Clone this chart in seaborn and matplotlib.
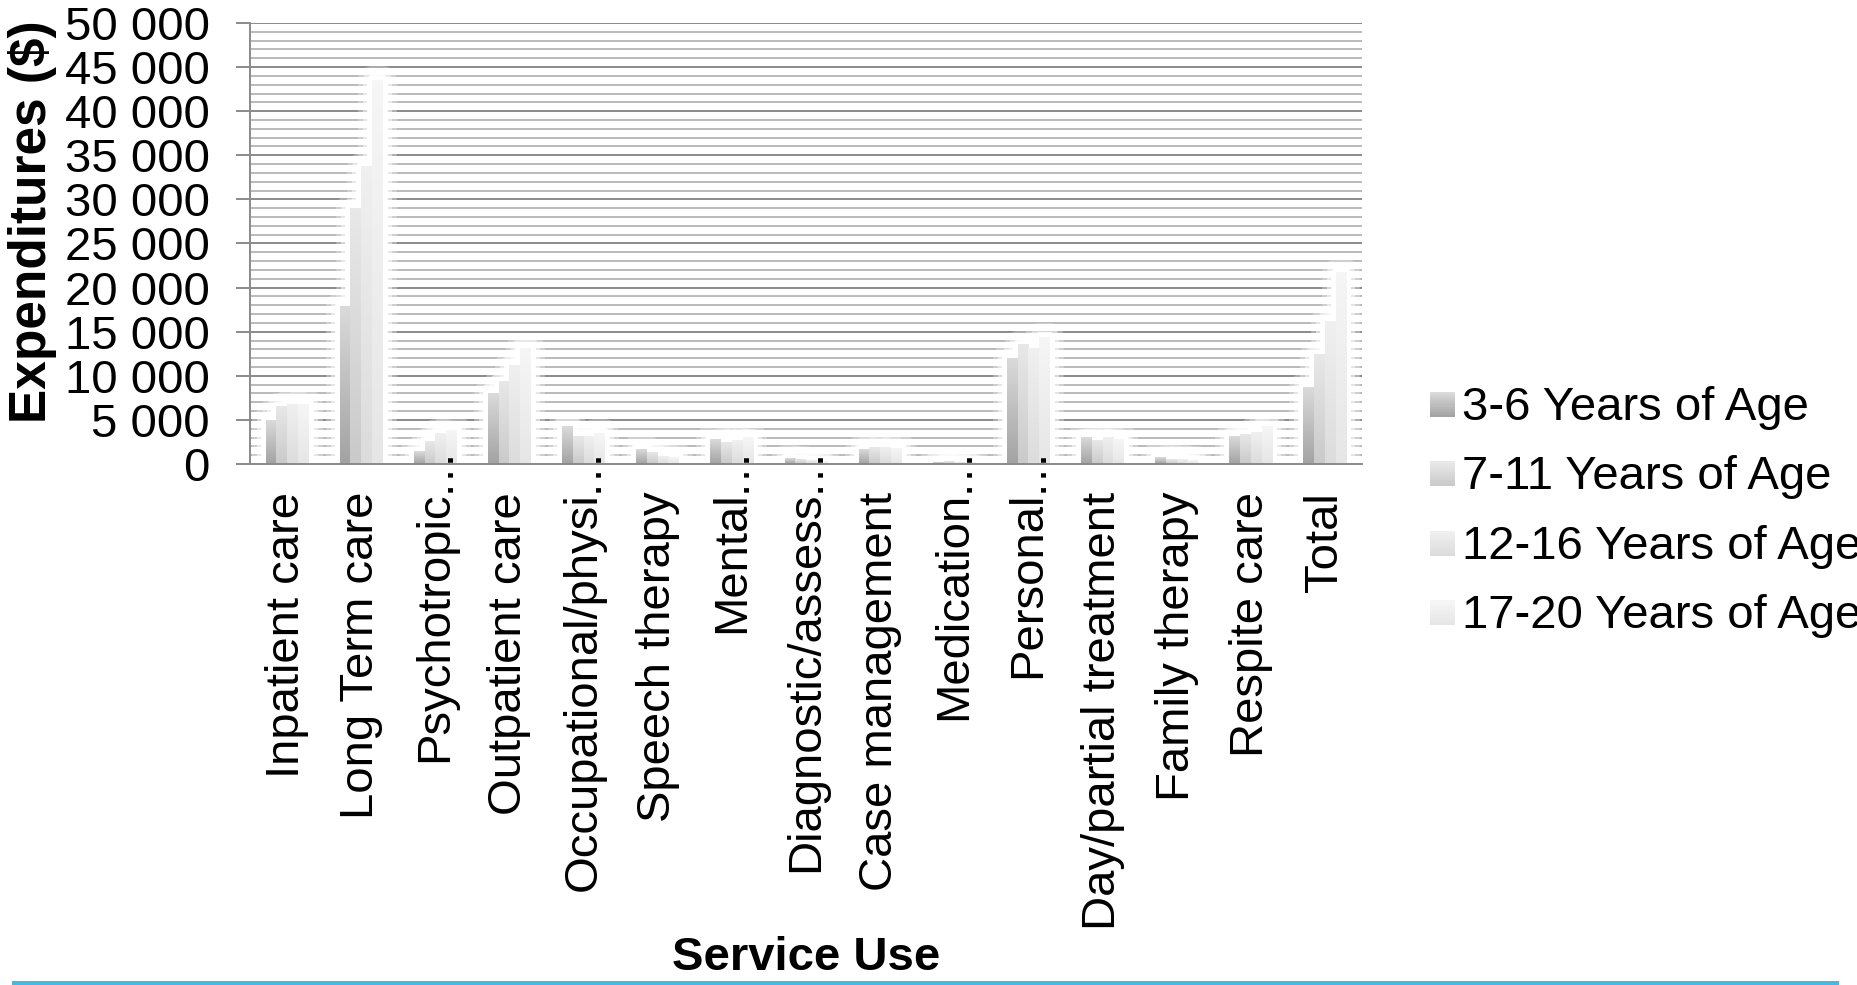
import numpy as np
import pandas as pd
import matplotlib
matplotlib.use("Agg")
import matplotlib.pyplot as plt
import seaborn as sns
from matplotlib.patches import Rectangle
from matplotlib.colors import LinearSegmentedColormap
from matplotlib.legend_handler import HandlerBase
from matplotlib.ticker import MultipleLocator, FuncFormatter

# ---- data -------------------------------------------------------------
service_labels = [
    "Inpatient care", "Long Term care", "Psychotropic…", "Outpatient care",
    "Occupational/physi…", "Speech therapy", "Mental…", "Diagnostic/assess…",
    "Case management", "Medication…", "Personal…", "Day/partial treatment",
    "Family therapy", "Respite care", "Total",
]
age_groups = ["3-6 Years of Age", "7-11 Years of Age",
              "12-16 Years of Age", "17-20 Years of Age"]

exp_3_6 = [4900, 17900, 1400, 8000, 4300, 1700, 2800, 600, 1600, 200,
           12000, 3000, 750, 3100, 8700]
exp_7_11 = [6500, 29000, 2500, 9300, 3100, 1300, 2450, 500, 1850, 250,
            13500, 2700, 550, 3300, 12400]
exp_12_16 = [6800, 33700, 3500, 11200, 3100, 900, 2650, 350, 1850, 200,
             13150, 3000, 550, 3600, 16200]
exp_17_20 = [6800, 43500, 3800, 13100, 3500, 750, 3000, 250, 1800, 150,
             14350, 2800, 450, 4300, 21700]

# bottom -> top shading of each age group
shades = [("#a3a3a3", "#dadada"), ("#cacaca", "#e8e8e8"),
          ("#dcdcdc", "#f0f0f0"), ("#e6e6e6", "#f6f6f6")]

# ---- long table -------------------------------------------------------
plain_labels = [s.rstrip("…") for s in service_labels]
rows = []
for grp, vals in zip(age_groups, [exp_3_6, exp_7_11, exp_12_16, exp_17_20]):
    for svc, v in zip(plain_labels, vals):
        rows.append({"service": svc, "age": grp, "value": v})
df = pd.DataFrame(rows)

# ---- figure -----------------------------------------------------------
sns.set_theme(style="white")
plt.rcParams["font.family"] = ["Liberation Sans", "DejaVu Sans"]
plt.rcParams["text.color"] = "black"
plt.rcParams["axes.labelcolor"] = "black"
plt.rcParams["xtick.color"] = "black"
plt.rcParams["ytick.color"] = "black"

W, H = 1858, 985
fig = plt.figure(figsize=(W / 100, H / 100), dpi=100)
fig.patch.set_facecolor("white")
ax = fig.add_axes([250 / W, 1 - 464 / H, (1362 - 250) / W, (464 - 23) / H])

mid_colors = [c[0] for c in shades]
sns.barplot(data=df, x="service", y="value", hue="age", order=plain_labels,
            hue_order=age_groups, palette=mid_colors, width=0.58,
            saturation=1, errorbar=None, legend=False, ax=ax, linewidth=0)

# gradient fill and soft white glow for every bar
for k, cont in enumerate(ax.containers):
    cmap = LinearSegmentedColormap.from_list(f"g{k}", list(shades[k]))
    for p in cont:
        x, w, h = p.get_x(), p.get_width(), p.get_height()
        p.set_zorder(2)
        if h <= 0:
            continue
        for lw, a in [(20, 0.3), (13, 0.5), (7, 1.0)]:
            ax.add_patch(Rectangle((x, 0), w, h, facecolor="white",
                                   edgecolor="white", lw=lw, alpha=a,
                                   joinstyle="round", zorder=1.5))
        grad = np.linspace(0, 1, 64).reshape(-1, 1)
        ax.imshow(grad, extent=[x, x + w, 0, h], origin="lower", cmap=cmap,
                  aspect="auto", interpolation="bilinear", zorder=2.1)

# ---- axes styling -----------------------------------------------------
ax.set_xlim(-0.5, len(plain_labels) - 0.5)
ax.set_ylim(0, 50000)
ax.set_axisbelow(True)
ax.yaxis.set_major_locator(MultipleLocator(5000))
ax.yaxis.set_minor_locator(MultipleLocator(1000))
ax.yaxis.set_major_formatter(
    FuncFormatter(lambda v, _: f"{int(v):,}".replace(",", " ")))
ax.grid(which="major", axis="y", color="#8a8a8a", lw=1.4)
ax.grid(which="minor", axis="y", color="#b4b4b4", lw=1.3)
ax.grid(False, axis="x")

ax.tick_params(axis="y", which="major", left=True, length=10, width=1.4,
               color="#8a8a8a", pad=19, labelsize=34, labelcolor="black")
ax.tick_params(axis="y", which="minor", left=False, length=0)
ax.set_xticks(range(len(plain_labels)))
ax.set_xticklabels(plain_labels, rotation=90)
ax.tick_params(axis="x", length=0, pad=20, labelsize=34, labelcolor="black")

for side in ("top", "right"):
    ax.spines[side].set_visible(False)
for side in ("left", "bottom"):
    ax.spines[side].set_color("#8a8a8a")
    ax.spines[side].set_linewidth(1.4)

ax.set_xlabel("")
ax.set_ylabel("")

# trailing ellipsis of shortened category names
for i, lab in enumerate(service_labels):
    if lab.endswith("…"):
        ax.annotate("…", xy=(i, 0), xycoords=("data", "axes fraction"),
                    xytext=(0, -20), textcoords="offset points", rotation=90,
                    ha="center", va="bottom", fontsize=34, color="black",
                    zorder=6, annotation_clip=False)

fig.text(806 / W, 1 - 958 / H, "Service Use", ha="center", va="center",
         fontsize=34, fontweight="bold", color="black")
fig.text(33 / W, 1 - 222 / H, "Expenditures ($)", rotation=90, ha="center",
         va="center", fontsize=37, fontweight="bold", color="black")


# ---- legend with shaded swatches --------------------------------------
class Swatch:
    def __init__(self, bottom, top):
        self.bottom, self.top = bottom, top


class SwatchHandler(HandlerBase):
    def create_artists(self, legend, orig_handle, xdescent, ydescent,
                       width, height, fontsize, trans):
        cmap = LinearSegmentedColormap.from_list(
            "s", [orig_handle.bottom, orig_handle.top])
        n = 12
        side = min(width, height)
        arts = []
        for j in range(n):
            r = Rectangle((-xdescent, -ydescent + side * j / n), side,
                          side / n + 0.3, facecolor=cmap(j / (n - 1)),
                          lw=0, transform=trans)
            arts.append(r)
        return arts


handles = [Swatch(*s) for s in shades]
leg = fig.legend(handles, age_groups, handler_map={Swatch: SwatchHandler()},
                 loc="center left", bbox_to_anchor=(1430 / W, 1 - 512 / H),
                 frameon=False, fontsize=34, handlelength=0.52,
                 handleheight=0.52, handletextpad=0.15, labelspacing=0.54,
                 borderpad=0, borderaxespad=0)
for t in leg.get_texts():
    t.set_color("black")

# accent rule along the bottom edge
fig.add_artist(Rectangle((12 / W, 0), (1839 - 12) / W, 4 / H,
                         transform=fig.transFigure, color="#4ab8e6", lw=0))

fig.savefig("out.png", dpi=100)
